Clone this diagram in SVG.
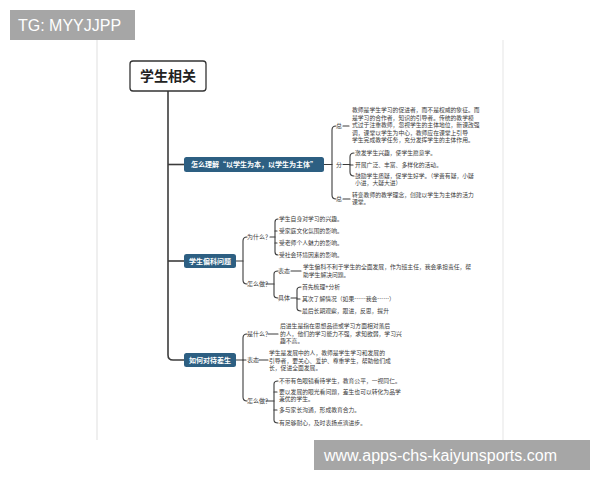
<svg xmlns="http://www.w3.org/2000/svg" width="600" height="480" viewBox="0 0 600 480">
<style>
.cj{font-family:"Noto Sans CJK SC","Noto Sans",sans-serif;}
.lf{font-size:5.8px;fill:#3a3a3a;}
.lb{font-size:6px;fill:#3a3a3a;}
.bn{fill:#2d5f82;}
.bt{font-size:7px;fill:#fff;font-weight:bold;}
.ln{fill:none;stroke:#3c3c3c;stroke-width:1.1;stroke-linecap:round;}
.tr{fill:none;stroke:#3c3c3c;stroke-width:1.6;}
.wm{fill:#a6a6a6;}
.wt{font-family:"Liberation Sans",Arial,sans-serif;font-size:16px;fill:#fff;}
</style>
<rect width="600" height="480" fill="#fff"/>
<line x1="97" y1="40" x2="97" y2="440" stroke="#efefef" stroke-width="2"/>
<line x1="503" y1="40" x2="503" y2="440" stroke="#f2f2f2" stroke-width="2"/>

<g id="connectors">
<path class="tr" d="M168 91 V355 Q168 360 173 360 H184"/>
<path class="tr" d="M168 164.5 H184"/>
<path class="tr" d="M168 261 H184"/>
<!-- branch 1 -->
<path class="ln" d="M324 164.5 H332"/>
<path class="ln" d="M336 126 Q332 126 332 130 V195 Q332 199 336 199"/>
<path class="ln" d="M343 126 H349"/>
<path class="ln" d="M343 164.5 H350"/>
<path class="ln" d="M343 199 H350"/>
<path class="ln" d="M354 153 Q350 153 350 157 V172 Q350 176 354 176"/>
<path class="ln" d="M350 165 H353"/>
<!-- branch 2 -->
<path class="ln" d="M236 261 H243"/>
<path class="ln" d="M247 237 Q243 237 243 241 V280 Q243 284 247 284"/>
<path class="ln" d="M270 237 H275"/>
<path class="ln" d="M278 219 Q275 219 275 222 V252 Q275 255 278 255"/>
<path class="ln" d="M275 231 H277"/>
<path class="ln" d="M275 243 H277"/>
<path class="ln" d="M266 284 H274"/>
<path class="ln" d="M278 271 Q274 271 274 274 V295 Q274 298 278 298"/>
<path class="ln" d="M291 271 H301"/>
<path class="ln" d="M291 298 H297"/>
<path class="ln" d="M301 287 Q297 287 297 290 V308 Q297 311 301 311"/>
<path class="ln" d="M297 299 H300"/>
<!-- branch 3 -->
<path class="ln" d="M236 360 H243"/>
<path class="ln" d="M247 334 Q243 334 243 338 V397 Q243 401 247 401"/>
<path class="ln" d="M243 360 H246"/>
<path class="ln" d="M268 334 H278"/>
<path class="ln" d="M259 360 H268"/>
<path class="ln" d="M266 401 H274"/>
<path class="ln" d="M278 381 Q274 381 274 384 V420 Q274 423 278 423"/>
<path class="ln" d="M274 392 H277"/>
<path class="ln" d="M274 410 H277"/>
</g>

<g id="root">
<rect x="130" y="61" width="76" height="30" rx="3" fill="#fff" stroke="#333" stroke-width="1.3"/>
<text class="cj" x="168" y="81" text-anchor="middle" font-size="14" font-weight="bold" fill="#222">学生相关</text>
</g>

<g id="n1">
<rect class="bn" x="184" y="157" width="140" height="15" rx="2.5"/>
<text class="cj bt" x="254" y="167" text-anchor="middle">怎么理解“以学生为本，以学生为主体”</text>
</g>
<g id="n1-zong1">
<text class="cj lb" x="336" y="128">总</text>
<text class="cj lf" x="352"><tspan x="352" y="112">教师是学生学习的促进者，而不是权威的象征。而</tspan><tspan x="352" y="119.5">是学习的合作者，知识的引导者。传统的教学模</tspan><tspan x="352" y="127">式过于注重教师，忽视学生的主体地位，新课改强</tspan><tspan x="352" y="134.5">调，课堂以学生为中心，教师应在课堂上引导</tspan><tspan x="352" y="142">学生完成教学任务，充分发挥学生的主体作用。</tspan></text>
</g>
<g id="n1-fen">
<text class="cj lb" x="336" y="166.5">分</text>
<text class="cj lf" x="355" y="155">激发学生兴趣，使学生愿意学。</text>
<text class="cj lf" x="355" y="167">开展广泛、丰富、多样化的活动。</text>
<text class="cj lf"><tspan x="355" y="177.5">鼓励学生质疑，促学生好学。（学贵有疑，小疑</tspan><tspan x="355" y="185">小进，大疑大进）</tspan></text>
</g>
<g id="n1-zong2">
<text class="cj lb" x="336" y="201">总</text>
<text class="cj lf"><tspan x="352" y="196.5">转变教师的教学理念，创建以学生为主体的活力</tspan><tspan x="352" y="204">课堂。</tspan></text>
</g>

<g id="n2">
<rect class="bn" x="184" y="254" width="52" height="14" rx="2.5"/>
<text class="cj bt" x="210" y="263.5" text-anchor="middle">学生偏科问题</text>
</g>
<g id="n2-why">
<text class="cj lb" x="247" y="239">为什么？</text>
<text class="cj lf" x="279" y="221">学生自身对学习的兴趣。</text>
<text class="cj lf" x="279" y="233">受家庭文化氛围的影响。</text>
<text class="cj lf" x="279" y="245">受老师个人魅力的影响。</text>
<text class="cj lf" x="279" y="257">受社会环境因素的影响。</text>
</g>
<g id="n2-how">
<text class="cj lb" x="247" y="286">怎么做？</text>
<text class="cj lb" x="278" y="273">表态</text>
<text class="cj lf"><tspan x="303" y="269">学生偏科不利于学生的全面发展，作为班主任，我会承担责任，帮</tspan><tspan x="303" y="276.5">助学生解决问题。</tspan></text>
<text class="cj lb" x="278" y="300">具体</text>
<text class="cj lf" x="302" y="289">首先梳理+分析</text>
<text class="cj lf" x="302" y="301">其次了解情况（如果……我会……）</text>
<text class="cj lf" x="302" y="313">最后长期观察，跟进，反思，提升</text>
</g>

<g id="n3">
<rect class="bn" x="184" y="353" width="52" height="14" rx="2.5"/>
<text class="cj bt" x="210" y="362.5" text-anchor="middle">如何对待差生</text>
</g>
<g id="n3-what">
<text class="cj lb" x="247" y="336">是什么？</text>
<text class="cj lf"><tspan x="280" y="328">后进生是指在思想品德或学习方面相对落后</tspan><tspan x="280" y="335.5">的人，他们的学习能力不强，求知欲弱，学习兴</tspan><tspan x="280" y="343">趣不高。</tspan></text>
</g>
<g id="n3-stance">
<text class="cj lb" x="247" y="362">表态</text>
<text class="cj lf"><tspan x="269" y="355">学生是发展中的人，教师是学生学习和发展的</tspan><tspan x="269" y="362.5">引导者，要关心、爱护、尊重学生，帮助他们成</tspan><tspan x="269" y="370">长，促进全面发展。</tspan></text>
</g>
<g id="n3-how">
<text class="cj lb" x="247" y="403">怎么做？</text>
<text class="cj lf" x="279" y="383">不带有色眼镜看待学生，教育公平，一视同仁。</text>
<text class="cj lf"><tspan x="279" y="393.5">要以发展的眼光看问题，差生也可以转化为品学</tspan><tspan x="279" y="401">兼优的学生。</tspan></text>
<text class="cj lf" x="279" y="412">多与家长沟通，形成教育合力。</text>
<text class="cj lf" x="279" y="425">有足够耐心，及时表扬点滴进步。</text>
</g>

<g id="watermarks">
<rect class="wm" x="10" y="10" width="125" height="30"/>
<text class="wt" x="18" y="31">TG: MYYJJPP</text>
<rect class="wm" x="314" y="440" width="276" height="30"/>
<text class="wt" x="324" y="461">www.apps-chs-kaiyunsports.com</text>
</g>
</svg>
